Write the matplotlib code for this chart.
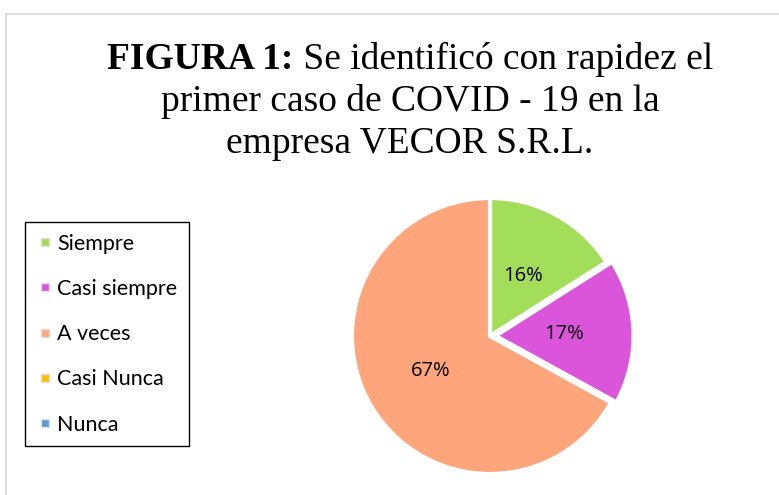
import matplotlib
matplotlib.use("Agg")
import matplotlib.pyplot as plt
from matplotlib.patches import Rectangle
from matplotlib.lines import Line2D

categories = ["Siempre", "Casi siempre", "A veces", "Casi Nunca", "Nunca"]
values = [16, 17, 67, 0, 0]
colors = ["#A3DE5B", "#DB55DB", "#FFA57C", "#FFC000", "#5B9BD5"]
explode = [0, 0.04, 0, 0, 0]

W, H = 779, 495
fig = plt.figure(figsize=(W / 100, H / 100), dpi=100)

# outer frame
fig.patches.append(Rectangle((6 / W, -0.1), 1.2, (H - 14) / H + 0.1, transform=fig.transFigure,
                             fill=False, edgecolor="#D9D9D9", linewidth=1.2))

# pie axes
cx, cy, r = 490, 336, 138
lim = 1.2
aw = 2 * lim * r
ax = fig.add_axes([(cx - aw / 2) / W, (H - cy - aw / 2) / H, aw / W, aw / H])

pv = [v for v in values if v > 0]
pc = [c for v, c in zip(values, colors) if v > 0]
pe = [e for v, e in zip(values, explode) if v > 0]
wedges, texts, autotexts = ax.pie(pv, colors=pc, explode=pe, startangle=90, counterclock=False,
                                  autopct=lambda p: f"{p:.0f}%", pctdistance=0.5,
                                  wedgeprops=dict(edgecolor="white", linewidth=3),
                                  textprops=dict(fontsize=14.5, family="Open Sans", color="black"))
ax.set_xlim(-lim, lim)
ax.set_ylim(-lim, lim)
ax.set_aspect("equal")
ax.axis("off")
for w in wedges:
    w.set_clip_on(False)

# title
tfont = "Liberation Serif"
fs = 27
renderer = fig.canvas.get_renderer()
t1b = fig.text(0, 0, "FIGURA 1:", fontsize=fs, family=tfont, fontweight="bold")
t1r = fig.text(0, 0, " Se identificó con rapidez el", fontsize=fs, family=tfont)
wb = t1b.get_window_extent(renderer).width
wr = t1r.get_window_extent(renderer).width
xc = 410
x0 = xc - (wb + wr) / 2
y1 = H - 69
t1b.set_position((x0 / W, y1 / H))
t1r.set_position(((x0 + wb) / W, y1 / H))
fig.text(xc / W, (y1 - 42) / H, "primer caso de COVID - 19 en la", fontsize=fs, family=tfont, ha="center")
fig.text(xc / W, (y1 - 84) / H, "empresa VECOR S.R.L.", fontsize=fs, family=tfont, ha="center")

# legend
handles = [Line2D([], [], marker="s", linestyle="none", markersize=6, markerfacecolor=c,
                  markeredgecolor="#E0E0E0", markeredgewidth=1.0) for c in colors]
leg = fig.legend(handles, categories, loc="upper left",
                 bbox_to_anchor=(25 / W, (H - 222) / H), bbox_transform=fig.transFigure,
                 frameon=True, fancybox=False, edgecolor="black", framealpha=1,
                 prop=dict(family="Lato", size=15.5), labelspacing=1.17,
                 handlelength=0.8, handletextpad=0.15, borderpad=0.55, borderaxespad=0)
leg.get_frame().set_linewidth(1.0)

fig.savefig("out.png", dpi=100, facecolor="white")
